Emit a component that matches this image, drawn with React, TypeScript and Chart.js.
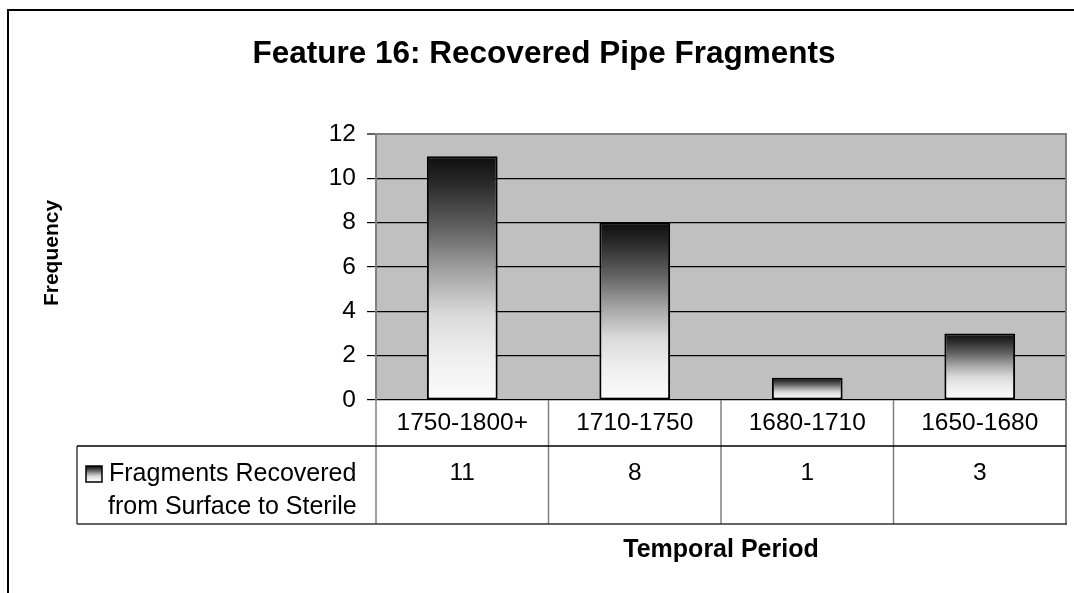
import React, { useEffect, useRef } from "react";
import { Chart, registerables } from "chart.js";

Chart.register(...registerables);

const categories = ["1750-1800+", "1710-1750", "1680-1710", "1650-1680"];
const fragments = [11, 8, 1, 3];
const seriesLabel = ["Fragments Recovered", "from Surface to Sterile"];
const yMax = 12;
const yStep = 2;
const chartTitle = "Feature 16: Recovered Pipe Fragments";
const yTitle = "Frequency";
const xTitle = "Temporal Period";

const FONT = '"Liberation Sans", Arial, sans-serif';

function barGradient(c: CanvasRenderingContext2D, top: number, bottom: number) {
  const g = c.createLinearGradient(0, top, 0, bottom);
  g.addColorStop(0, "#0e0e0e");
  g.addColorStop(0.1, "#262626");
  g.addColorStop(0.3, "#636363");
  g.addColorStop(0.47, "#a2a2a2");
  g.addColorStop(0.65, "#dadada");
  g.addColorStop(0.82, "#efefef");
  g.addColorStop(1, "#fbfbfb");
  return g;
}

const decor = {
  id: "decor",
  beforeDraw(chart: any) {
    const { ctx, chartArea: a } = chart;
    ctx.save();
    ctx.fillStyle = "#ffffff";
    ctx.fillRect(0, 0, chart.width, chart.height);
    ctx.fillStyle = "#c0c0c0";
    ctx.fillRect(a.left, a.top, a.right - a.left, a.bottom - a.top);
    ctx.restore();
  },
  afterDraw(chart: any) {
    const { ctx, chartArea: a } = chart;
    const x = chart.scales.x;
    const n = categories.length;
    const colW = (a.right - a.left) / n;
    const row1 = a.bottom;
    const row2 = 446;
    const row3 = 524;
    const tableLeft = 77;
    ctx.save();

    // outer frame
    ctx.fillStyle = "#000";
    ctx.fillRect(7, 9, chart.width, 2);
    ctx.fillRect(7, 9, 2, chart.height);

    // plot right border
    ctx.strokeStyle = "#808080";
    ctx.lineWidth = 2;
    ctx.beginPath();
    ctx.moveTo(a.right, a.top - 1);
    ctx.lineTo(a.right, row3);
    ctx.stroke();

    // table verticals
    ctx.lineWidth = 1.5;
    for (let i = 0; i < n; i++) {
      const bx = x.getPixelForValue(i) - colW / 2;
      ctx.beginPath();
      ctx.moveTo(bx, row1);
      ctx.lineTo(bx, row3);
      ctx.stroke();
    }
    ctx.strokeStyle = "#404040";
    ctx.beginPath();
    ctx.moveTo(tableLeft, row2);
    ctx.lineTo(tableLeft, row3);
    ctx.stroke();

    // table horizontals
    ctx.strokeStyle = "#000";
    ctx.lineWidth = 1.5;
    ctx.beginPath();
    ctx.moveTo(tableLeft, row2);
    ctx.lineTo(a.right, row2);
    ctx.stroke();
    ctx.strokeStyle = "#303030";
    ctx.beginPath();
    ctx.moveTo(tableLeft, row3);
    ctx.lineTo(a.right + 1, row3);
    ctx.stroke();

    // category labels and values
    ctx.fillStyle = "#000";
    ctx.font = `24.5px ${FONT}`;
    ctx.textAlign = "center";
    ctx.textBaseline = "alphabetic";
    for (let i = 0; i < n; i++) {
      const cx = x.getPixelForValue(i);
      ctx.fillText(categories[i], cx, 429.5);
      ctx.fillText(String(fragments[i]), cx, 479.5);
    }

    // legend key
    const kx = 86, ky = 466, ks = 16;
    ctx.fillStyle = barGradient(ctx, ky, ky + ks);
    ctx.fillRect(kx, ky, ks, ks);
    ctx.strokeStyle = "#000";
    ctx.lineWidth = 1.5;
    ctx.strokeRect(kx, ky, ks, ks);
    ctx.fillStyle = "#000";
    ctx.textAlign = "left";
    ctx.font = `25px ${FONT}`;
    ctx.fillText(seriesLabel[0], 109, 480.5);
    ctx.fillText(seriesLabel[1], 108, 513.5);

    // titles
    ctx.textAlign = "center";
    ctx.font = `bold 31.5px ${FONT}`;
    ctx.fillText(chartTitle, 544, 63);
    ctx.font = `bold 25px ${FONT}`;
    ctx.fillText(xTitle, (a.left + a.right) / 2, 557);
    ctx.translate(57.5, 253);
    ctx.rotate(-Math.PI / 2);
    ctx.font = `bold 21px ${FONT}`;
    ctx.fillText(yTitle, 0, 0);
    ctx.restore();
  },
};

export default function App() {
  const ref = useRef<HTMLCanvasElement | null>(null);
  useEffect(() => {
    if (!ref.current) return;
    const chart = new Chart(ref.current, {
      type: "bar",
      data: {
        labels: categories,
        datasets: [
          {
            label: seriesLabel.join(" "),
            data: fragments,
            backgroundColor: (c: any) => {
              const ch = c.chart;
              if (!ch.chartArea || c.type !== "data") return "#888";
              const y = ch.scales.y;
              const top = y.getPixelForValue(c.raw as number);
              const bottom = y.getPixelForValue(0);
              return barGradient(ch.ctx, top, bottom);
            },
            borderColor: "#000",
            borderWidth: 2,
            borderSkipped: false,
            barPercentage: 0.41,
            categoryPercentage: 1,
          },
        ],
      },
      options: {
        responsive: false,
        animation: false,
        devicePixelRatio: 1,
        layout: { padding: { left: 300, top: 134, right: 8, bottom: 193 } },
        plugins: {
          legend: { display: false },
          tooltip: { enabled: false },
          title: { display: false },
        },
        scales: {
          x: { display: false, offset: true },
          y: {
            min: 0,
            max: yMax,
            afterFit: (s: any) => {
              s.width = 76;
            },
            ticks: {
              stepSize: yStep,
              color: "#000",
              padding: 11,
              font: { family: FONT, size: 24.5 },
            },
            grid: {
              color: (c: any) => (c.tick && c.tick.value === yMax ? "#808080" : "#000"),
              lineWidth: (c: any) => (c.tick && c.tick.value === yMax ? 2 : 1.2),
              tickColor: "#000",
              tickLength: 9,
              tickWidth: 1.2,
            },
            border: { display: true, color: "#808080", width: 2 },
          },
        },
      },
      plugins: [decor],
    });
    return () => chart.destroy();
  }, []);
  return (
    <div style={{ position: "absolute", left: 0, top: 0, width: 1074, height: 593 }}>
      <canvas ref={ref} width={1074} height={593} style={{ display: "block" }} />
    </div>
  );
}
